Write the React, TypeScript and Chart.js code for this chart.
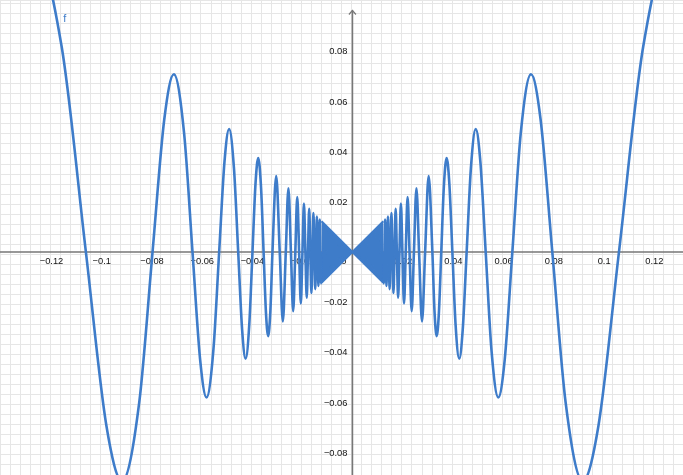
import React, { useEffect, useRef } from 'react';
import { Chart, registerables } from 'chart.js';

Chart.register(...registerables);

// Visible window (axis ranges)
const X_MIN = -0.1403;
const X_MAX = 0.1316;
const Y_MIN = -0.0889;
const Y_MAX = 0.1005;

// Curve f for x > 0 (the graph is symmetric about the y-axis; the left branch mirrors it)
const curveX = [
  0.012243, 0.012485, 0.012732, 0.012995, 0.013263, 0.013548, 0.01384, 0.01415, 0.014469,
  0.014808, 0.015158, 0.015531, 0.015915, 0.016328, 0.016753, 0.017211, 0.017684, 0.018195,
  0.018724, 0.019299, 0.019894, 0.020545, 0.021221, 0.021963, 0.022736, 0.023592, 0.024485,
  0.025481, 0.026526, 0.0277, 0.028937, 0.030343, 0.031831, 0.032647, 0.033544, 0.034412,
  0.035368, 0.036378, 0.037501, 0.038583, 0.039789, 0.041072, 0.042518, 0.043905, 0.045473,
  0.047157, 0.049089, 0.05093, 0.053052, 0.055358, 0.058069, 0.06063, 0.063662, 0.067013,
  0.071093, 0.074896, 0.079577, 0.084883, 0.091709, 0.097941, 0.106103, 0.115749, 0.129445,
  0.141471, 0.159155,
];
const curveY = [
  0, -0.012484, 0, 0.012994, 0, -0.013546, 0, 0.014149, 0,
  -0.014806, 0, 0.015529, 0, -0.016326, 0, 0.017208, 0, -0.01819,
  0, 0.019293, 0, -0.020537, 0, 0.021952, 0, -0.023579, 0,
  0.025464, 0, -0.027679, 0, 0.030329, 0, -0.023085, -0.033525, -0.024333,
  0, 0.025723, 0.037475, 0.027282, 0, -0.029042, -0.04248, -0.031046, 0,
  0.033345, 0.049029, 0.036013, 0, -0.039144, -0.057971, -0.042872, 0, 0.047386,
  0.070913, 0.05296, 0, -0.060022, -0.091324, -0.069255, 0, 0.081847, 0.128172,
  0.100035, 0,
];

// Dense oscillation region around the origin (appears solid)
const wedgeX = [-0.0123, 0, 0.0123];
const wedgeTop = [0.0123, 0, 0.0123];
const wedgeBottom = [-0.0123, 0, -0.0123];

// Axis tick labels
const xTickLabels = [-0.12, -0.1, -0.08, -0.06, -0.04, -0.02, 0.02, 0.04, 0.06, 0.08, 0.1, 0.12];
const yTickLabels = [-0.08, -0.06, -0.04, -0.02, 0.02, 0.04, 0.06, 0.08];
const functionName = 'f';
const functionLabelPos = { x: -0.1145, y: 0.0928 };

const MINOR_STEP = 0.004;
const MAJOR_STEP = 0.02;

const CURVE_COLOR = 'rgb(62,124,202)';
const AXIS_COLOR = '#777777';
const MAJOR_GRID = '#c4c4c4';
const MINOR_GRID = '#e6e6e6';
const LABEL_FONT = '9.3px "Liberation Sans", Arial, sans-serif';

function fmt(v: number): string {
  const s = String(Number(v.toFixed(3)));
  return s.replace('-', '\u2212');
}

function isMajor(v: number | undefined): boolean {
  if (v === undefined || v === null) return false;
  const r = v / MAJOR_STEP;
  return Math.abs(r - Math.round(r)) < 1e-6;
}

const axesPlugin = {
  id: 'ggbAxes',
  beforeDatasetsDraw(chart: any) {
    const { ctx, width, height } = chart;
    const xs = chart.scales.x;
    const ys = chart.scales.y;
    const x0 = xs.getPixelForValue(0);
    const y0 = ys.getPixelForValue(0);
    ctx.save();
    ctx.strokeStyle = AXIS_COLOR;
    ctx.lineWidth = 1.6;
    ctx.beginPath();
    ctx.moveTo(0, y0);
    ctx.lineTo(width, y0);
    ctx.moveTo(x0, 10.5);
    ctx.lineTo(x0, height);
    ctx.stroke();
    ctx.lineWidth = 1.2;
    ctx.beginPath();
    ctx.moveTo(x0 - 3.5, 14.5);
    ctx.lineTo(x0, 10.5);
    ctx.lineTo(x0 + 3.5, 14.5);
    ctx.stroke();

    ctx.fillStyle = '#111111';
    ctx.font = LABEL_FONT;
    ctx.textBaseline = 'middle';
    ctx.textAlign = 'center';
    for (const v of xTickLabels) {
      ctx.fillText(fmt(v), xs.getPixelForValue(v) + 0.5, y0 + 9.5);
    }
    ctx.fillText('0', x0 - 8.5, y0 + 9.5);
    ctx.textAlign = 'right';
    for (const v of yTickLabels) {
      ctx.fillText(fmt(v), x0 - 5, ys.getPixelForValue(v) + 0.5);
    }
    ctx.restore();
  },
  afterDatasetsDraw(chart: any) {
    const { ctx } = chart;
    const xs = chart.scales.x;
    const ys = chart.scales.y;
    ctx.save();
    ctx.fillStyle = CURVE_COLOR;
    ctx.font = '11px "Liberation Sans", Arial, sans-serif';
    ctx.textAlign = 'center';
    ctx.textBaseline = 'middle';
    ctx.fillText(functionName, xs.getPixelForValue(functionLabelPos.x), ys.getPixelForValue(functionLabelPos.y));
    ctx.restore();
  },
};

export default function App() {
  const ref = useRef<HTMLCanvasElement | null>(null);

  useEffect(() => {
    const canvas = ref.current;
    if (!canvas) return;
    const right = curveX.map((x, i) => ({ x, y: curveY[i] }));
    const left = curveX.map((x, i) => ({ x: -x, y: curveY[i] })).reverse();
    const top = wedgeX.map((x, i) => ({ x, y: wedgeTop[i] }));
    const bottom = wedgeX.map((x, i) => ({ x, y: wedgeBottom[i] }));

    const lineDs = (data: any[]) => ({
      data,
      borderColor: CURVE_COLOR,
      borderWidth: 2.6,
      pointRadius: 0,
      fill: false,
      cubicInterpolationMode: 'monotone' as const,
      tension: 0.4,
    });
    const wedgeDs = (data: any[]) => ({
      data,
      borderColor: CURVE_COLOR,
      backgroundColor: CURVE_COLOR,
      borderWidth: 2,
      pointRadius: 0,
      fill: 'origin',
      tension: 0,
    });

    const gridColor = (c: any) => (isMajor(c.tick?.value) ? MAJOR_GRID : MINOR_GRID);

    const chart = new Chart(canvas, {
      type: 'line',
      data: {
        datasets: [lineDs(left), lineDs(right), wedgeDs(top), wedgeDs(bottom)] as any,
      },
      options: {
        responsive: false,
        animation: false,
        events: [],
        layout: { padding: 0 },
        plugins: {
          legend: { display: false },
          tooltip: { enabled: false },
        },
        scales: {
          x: {
            type: 'linear',
            min: X_MIN,
            max: X_MAX,
            bounds: 'data',
            position: { y: 0 } as any,
            ticks: { display: false, stepSize: MINOR_STEP, autoSkip: false, includeBounds: false },
            grid: { color: gridColor, lineWidth: 1, drawTicks: false },
            border: { display: false },
          },
          y: {
            type: 'linear',
            min: Y_MIN,
            max: Y_MAX,
            bounds: 'data',
            position: { x: 0 } as any,
            ticks: { display: false, stepSize: MINOR_STEP, autoSkip: false, includeBounds: false },
            grid: { color: gridColor, lineWidth: 1, drawTicks: false },
            border: { display: false },
          },
        },
      } as any,
      plugins: [axesPlugin],
    });
    return () => chart.destroy();
  }, []);

  return (
    <div style={{ position: 'fixed', left: 0, top: 0, width: 683, height: 475, background: '#fff' }}>
      <canvas ref={ref} width={683} height={475} style={{ display: 'block', width: 683, height: 475 }} />
    </div>
  );
}
